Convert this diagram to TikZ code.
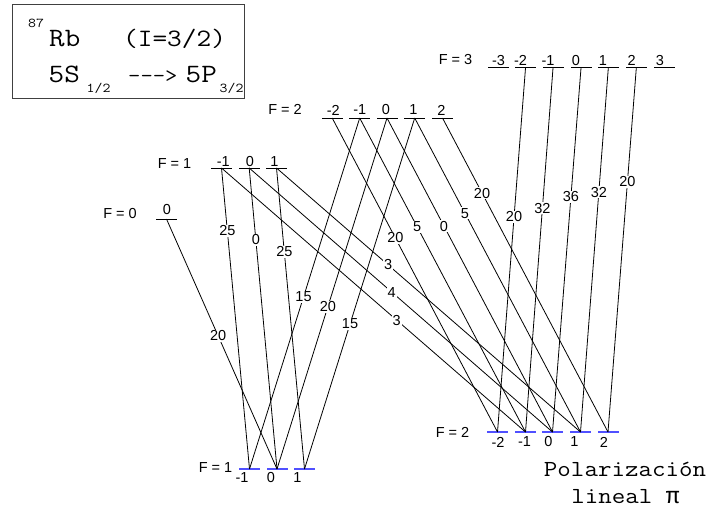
\documentclass[tikz,border=0pt]{standalone}
\usepackage{fontspec}
\setmainfont{Liberation Sans}
\newfontfamily\cour{Latin Modern Mono}[FakeStretch=1.14]
\newfontfamily\griega{Liberation Mono}
\definecolor{azul}{RGB}{80,80,255}
\begin{document}
\begin{tikzpicture}[x=1pt, y=-1pt,
        nivel/.style={fill=black, minimum width=21pt, minimum height=1pt, inner sep=0pt},
        nivelb/.style={fill=azul, minimum width=21pt, minimum height=2pt, inner sep=0pt},
        num/.style={inner sep=0pt, font=\fontsize{14.5}{17}\selectfont},
        val/.style={fill=white, inner sep=1pt, font=\fontsize{14.5}{17}\selectfont},
        trans/.style={draw, line width=0.8pt},
        texto/.style={anchor=base west, inner sep=0pt, font=\cour\fontsize{25}{28}\selectfont},
        grande/.style={anchor=base west, inner sep=0pt, font=\cour\fontsize{26.5}{30}\selectfont},
        indice/.style={anchor=base west, inner sep=0pt, font=\cour\fontsize{13.5}{16}\selectfont},
        pol/.style={anchor=base, inner sep=0pt, font=\cour\fontsize{23}{26}\selectfont}
    ]
        \useasboundingbox (0,0) rectangle (711,516);

        % Recuadro
        \draw[black!75, line width=1pt] (12.7,4.3) rectangle (244,99);
        \node[indice] (a87) at (28,28) {87};
        \node[grande] (rb) at (49,47) {Rb};
        \node[texto] (spin) at (123,47) {(I=3/2)};
        \node[grande] (s5) at (48.5,83) {5S};
        \node[indice] (s5j) at (86.5,93) {1/2};
        \node[texto, font=\cour\fontsize{21}{24}\selectfont] (flecha) at (128,83) {-{}-{}-{}>};
        \node[grande] (p5) at (185.5,83) {5P};
        \node[indice] (p5j) at (219.5,93) {3/2};

        % Niveles 5P3/2
        \node[nivel] (e00) at (166.5,219) {};
        \node[nivel] (e1m1) at (221.5,168) {};
        \node[nivel] (e10) at (249.2,168) {};
        \node[nivel] (e1p1) at (276.5,168) {};
        \node[nivel] (e2m2) at (332.2,118) {};
        \node[nivel] (e2m1) at (359.7,118) {};
        \node[nivel] (e20) at (387,118) {};
        \node[nivel] (e2p1) at (414.7,118) {};
        \node[nivel] (e2p2) at (442.5,118) {};
        \node[nivel] (e3m3) at (498,68) {};
        \node[nivel] (e3m2) at (525.5,68) {};
        \node[nivel] (e3m1) at (553,68) {};
        \node[nivel] (e30) at (581,68) {};
        \node[nivel] (e3p1) at (608.3,68) {};
        \node[nivel] (e3p2) at (636.3,68) {};
        \node[nivel] (e3p3) at (664,68) {};

        \node[num] (fe0) at (120,214) {F = 0};
        \node[num] (fe1) at (174.5,164) {F = 1};
        \node[num] (fe2) at (285,109) {F = 2};
        \node[num] (fe3) at (455.5,60) {F = 3};

        \node[num] at (166.8,210) {0};
        \node[num] at (223.3,161.3) {-1};
        \node[num] at (250,161.3) {0};
        \node[num] at (274.5,161.3) {1};
        \node[num] at (333.3,110) {-2};
        \node[num] at (359.7,110) {-1};
        \node[num] at (386,110) {0};
        \node[num] at (413.3,110) {1};
        \node[num] at (441.3,110) {2};
        \node[num] at (498.5,60.5) {-3};
        \node[num] at (520.5,60.5) {-2};
        \node[num] at (548,60.5) {-1};
        \node[num] at (576,60.5) {0};
        \node[num] at (603,60.5) {1};
        \node[num] at (631.7,60.5) {2};
        \node[num] at (660,60.5) {3};

        % Niveles 5S1/2
        \node[nivelb] (g1m1) at (249.5,469) {};
        \node[nivelb] (g10) at (277,469) {};
        \node[nivelb] (g1p1) at (304.5,469) {};
        \node[nivelb] (g2m2) at (497.5,432) {};
        \node[nivelb] (g2m1) at (525.5,432) {};
        \node[nivelb] (g20) at (552.5,432) {};
        \node[nivelb] (g2p1) at (580.5,432) {};
        \node[nivelb] (g2p2) at (608,432) {};

        % Transiciones hacia F=1
        \draw[trans] (e00.center) -- node[val, pos=0.468] {20} (g10.center);
        \draw[trans] (e1m1.center) -- node[val, pos=0.209] {25} (g1m1.center);
        \draw[trans] (e10.center) -- node[val, pos=0.239] {0} (g10.center);
        \draw[trans] (e1p1.center) -- node[val, pos=0.279] {25} (g1p1.center);
        \draw[trans] (e2m1.center) -- node[val, pos=0.51] {15} (g1m1.center);
        \draw[trans] (e20.center) -- node[val, pos=0.538] {20} (g10.center);
        \draw[trans] (e2p1.center) -- node[val, pos=0.587] {15} (g1p1.center);

        % Transiciones hacia F=2
        \draw[trans] (e1m1.center) -- node[val, pos=0.576] {3} (g2m1.center);
        \draw[trans] (e10.center) -- node[val, pos=0.47] {4} (g20.center);
        \draw[trans] (e1p1.center) -- node[val, pos=0.367] {3} (g2p1.center);
        \draw[trans] (e2m2.center) -- node[val, pos=0.382] {20} (g2m2.center);
        \draw[trans] (e2m1.center) -- node[val, pos=0.347] {5} (g2m1.center);
        \draw[trans] (e20.center) -- node[val, pos=0.344] {0} (g20.center);
        \draw[trans] (e2p1.center) -- node[val, pos=0.303] {5} (g2p1.center);
        \draw[trans] (e2p2.center) -- node[val, pos=0.239] {20} (g2p2.center);
        \draw[trans] (e3m2.center) -- node[val, pos=0.409] {20} (g2m2.center);
        \draw[trans] (e3m1.center) -- node[val, pos=0.385] {32} (g2m1.center);
        \draw[trans] (e30.center) -- node[val, pos=0.354] {36} (g20.center);
        \draw[trans] (e3p1.center) -- node[val, pos=0.341] {32} (g2p1.center);
        \draw[trans] (e3p2.center) -- node[val, pos=0.313] {20} (g2p2.center);

        \node[num] (fg1) at (215.5,467.5) {F = 1};
        \node[num] (fg2) at (452.5,432) {F = 2};

        \node[num] at (242,477.5) {-1};
        \node[num] at (271,477.5) {0};
        \node[num] at (297.5,477.5) {1};
        \node[num] at (498,442) {-2};
        \node[num] at (524.5,442) {-1};
        \node[num] at (548.5,442) {0};
        \node[num] at (574.5,442) {1};
        \node[num] at (604,442) {2};

        \node[pol] (polar) at (625,476) {Polarización};
        \node[pol] (lineal) at (625.5,503) {lineal {\griega π}};
    \end{tikzpicture}
\end{document}
